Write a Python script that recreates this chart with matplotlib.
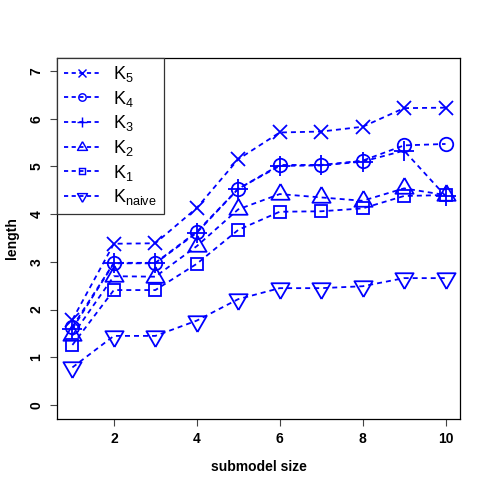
import matplotlib
matplotlib.use("Agg")
import matplotlib.pyplot as plt
from matplotlib.lines import Line2D

plt.rcParams['font.family'] = ['Liberation Sans', 'DejaVu Sans']
plt.rcParams['mathtext.fontset'] = 'custom'
plt.rcParams['mathtext.rm'] = 'Liberation Sans'
plt.rcParams['mathtext.it'] = 'Liberation Sans'
plt.rcParams['lines.scale_dashes'] = False

size = [1, 2, 3, 4, 5, 6, 7, 8, 9, 10]
k5 = [1.79, 3.38, 3.39, 4.13, 5.15, 5.71, 5.73, 5.83, 6.22, 6.23]
k4 = [1.64, 2.98, 2.98, 3.63, 4.53, 5.03, 5.03, 5.12, 5.44, 5.47]
k3 = [1.60, 2.97, 2.97, 3.61, 4.53, 5.01, 5.02, 5.10, 5.33, 4.38]
k2 = [1.46, 2.70, 2.69, 3.33, 4.10, 4.42, 4.35, 4.28, 4.54, 4.40]
k1 = [1.26, 2.41, 2.41, 2.96, 3.67, 4.05, 4.06, 4.12, 4.38, 4.40]
knaive = [0.79, 1.45, 1.45, 1.77, 2.22, 2.45, 2.45, 2.49, 2.66, 2.66]
labels = [r'$\mathregular{K_5}$', r'$\mathregular{K_4}$', r'$\mathregular{K_3}$',
          r'$\mathregular{K_2}$', r'$\mathregular{K_1}$', r'$\mathregular{K_{naive}}$']

# R style triangles (centroid at the point)
tri_up = [(0, 1), (0.866, -0.5), (-0.866, -0.5), (0, 1)]
tri_down = [(0, -1), (0.866, 0.5), (-0.866, 0.5), (0, -1)]

series = [k5, k4, k3, k2, k1, knaive]
markers = ['x', 'o', '+', tri_up, 's', tri_down]
msizes = [9.7, 9.7, 13.8, 15.1, 8.6, 15.1]
blue = '#0000FF'
lw = 1.3
dash = (3.6, 2.9)

fig = plt.figure(figsize=(4.9, 4.9), dpi=100)
ax = fig.add_axes([0.1173, 0.1459, 0.8224, 0.7367])

for vals, m, ms in zip(series, markers, msizes):
    ax.plot(size, vals, color=blue, lw=lw, dashes=dash, marker=m, ms=ms,
            mfc='none', mec=blue, mew=lw)

ax.set_xlim(0.64, 10.36)
ax.set_ylim(-0.28, 7.28)
ax.set_xticks([2, 4, 6, 8, 10])
ax.set_yticks(range(0, 8))
ax.tick_params(direction='out', length=5, width=0.8, labelsize=10, pad=5,
               color='#444444')
for t in ax.get_xticklabels():
    t.set_fontweight('bold')
for t in ax.get_yticklabels():
    t.set_fontweight('bold')
    t.set_rotation(90)
    t.set_va('center')
ax.set_xlabel('submodel size', fontsize=10, fontweight='bold', va='center')
ax.set_ylabel('length', fontsize=10, fontweight='bold', va='center')
ax.xaxis.set_label_coords(0.5, -0.134)
ax.yaxis.set_label_coords(-0.113, 0.5)
for s in ax.spines.values():
    s.set_linewidth(0.9)

handles = [Line2D([], [], color=blue, lw=lw, dashes=(3, 2.5), marker=m, ms=ms * 0.55,
                  mfc='none', mec=blue, mew=lw * 0.8)
           for m, ms in zip(markers, msizes)]
leg = ax.legend(handles, labels, loc='upper left', bbox_to_anchor=(0, 1),
                borderaxespad=0, fontsize=13, fancybox=False, edgecolor='#333333',
                framealpha=1, handlelength=2.0, handletextpad=0.75,
                labelspacing=0.26, borderpad=0.35)
leg.get_frame().set_linewidth(0.9)

fig.savefig('out.png', dpi=100)
